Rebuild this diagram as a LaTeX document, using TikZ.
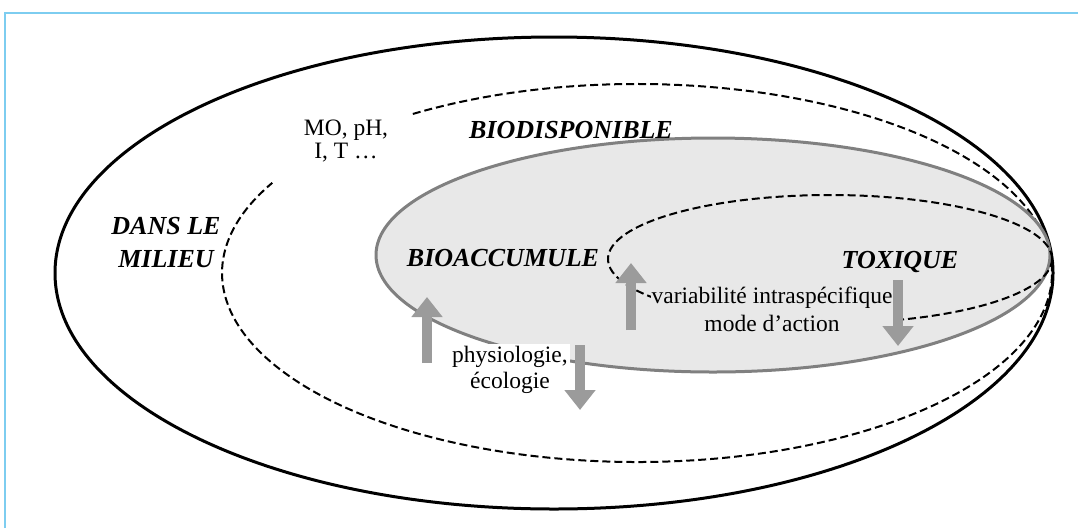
\documentclass[tikz,border=0pt]{standalone}
\usepackage{fontspec}
\setmainfont{Liberation Serif}
\usetikzlibrary{arrows.meta}
\definecolor{frameblue}{RGB}{125,205,240}
\definecolor{ellgray}{RGB}{128,128,128}
\definecolor{ellfill}{RGB}{232,232,232}
\definecolor{arrgray}{RGB}{155,155,155}
\begin{document}
\begin{tikzpicture}[x=1pt,y=-1pt,
  lab/.style={font=\fontsize{26}{33}\selectfont\bfseries\itshape, inner sep=0pt, align=center},
  txt/.style={font=\fontsize{23.5}{26}\selectfont, align=center, inner sep=1pt},
  bigarrow/.style={line width=10pt, draw=arrgray, -{Triangle[width=30pt,length=20pt]}},
  dsh/.style={dash pattern=on 8pt off 4pt, line width=2pt}]
\useasboundingbox (0,0) rectangle (1078,528);
% frame
\draw[frameblue, line width=2.5pt] (5,528) -- (5,13) -- (1078,13);
% outer ellipse: dans le milieu
\draw[line width=3pt] (554,273) ellipse[x radius=499, y radius=236];
% dashed: biodisponible
\draw[dsh, shift={(637,273)}] (-122.7:415 and 189) arc[start angle=-122.7, end angle=208.5, x radius=415, y radius=189];
% grey: bioaccumule
\draw[ellgray, fill=ellfill, line width=3pt] (713,255) ellipse[x radius=337, y radius=117];
% dashed: toxique
\draw[dsh] (830,259) ellipse[x radius=222, y radius=64];
% labels
\node[txt, font=\fontsize{23.5}{23}\selectfont] (mo) at (346,141) {MO, pH,\\I, T …};
\node[lab] (bio) at (571,130) {BIODISPONIBLE};
\node[lab] (dans) at (166,243) {DANS LE\\MILIEU};
\node[lab] (bioacc) at (503,258) {BIOACCUMULE};
\node[lab] (tox) at (900,262) {TOXIQUE};
\node[txt, fill=ellfill, font=\fontsize{23.5}{28}\selectfont] (var) at (772,309) {variabilité intraspécifique\\mode d’action};
\node[txt, fill=white, inner sep=2pt] (phys) at (510,370) {physiologie,\\écologie};
% arrows
\coordinate (a1s) at (427,363); \coordinate (a1e) at (427,297);
\coordinate (a2s) at (580,345); \coordinate (a2e) at (580,410);
\coordinate (a3s) at (631,330); \coordinate (a3e) at (631,263);
\coordinate (a4s) at (898,280); \coordinate (a4e) at (898,346);
\draw[bigarrow] (a1s) -- (a1e);
\draw[bigarrow] (a2s) -- (a2e);
\draw[bigarrow] (a3s) -- (a3e);
\draw[bigarrow] (a4s) -- (a4e);
\end{tikzpicture}
\end{document}
